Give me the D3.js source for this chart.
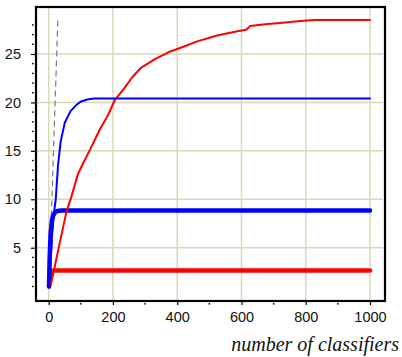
<!DOCTYPE html>
<html>
<head>
<meta charset="utf-8">
<script src="https://cdn.jsdelivr.net/npm/d3@7/dist/d3.min.js"></script>
<style>
  html, body { margin: 0; padding: 0; background: #fff; }
  svg { display: block; }
  .title { font-family: 'Liberation Serif', 'Times New Roman', serif; font-style: italic; }
  .tick text { font-family: 'Liberation Sans', Arial, sans-serif; }
</style>
</head>
<body>
<svg id="chart" width="402" height="357"></svg>
<script>
// x positions (number of classifiers) and values for each curve
const redThinX  = [6, 16, 35, 56, 70, 91, 110, 130, 159, 185, 205, 234, 260, 288, 332, 374, 415, 462, 524, 565, 596, 615, 627, 680, 720, 783, 829, 1000];
const redThinY  = [1.1, 2.6, 5.6, 8.8, 10.2, 12.6, 13.9, 15.2, 17.2, 18.7, 20.2, 21.4, 22.6, 23.6, 24.5, 25.2, 25.7, 26.3, 26.9, 27.2, 27.4, 27.5, 27.9, 28.1, 28.2, 28.4, 28.5, 28.5];

const blueThinX = [1, 5, 10, 16, 22, 29, 37, 50, 68, 85, 99, 120, 141, 1000];
const blueThinY = [1, 3, 6, 8.5, 10, 13.5, 15.9, 17.9, 19.1, 19.7, 20.07, 20.3, 20.4, 20.4];

const blueThickX = [1, 3, 6, 9, 11, 15, 20, 27, 40, 1000];
const blueThickY = [1, 4, 6.4, 7.5, 8.0, 8.4, 8.65, 8.8, 8.85, 8.85];

const redThickX = [1, 5, 11, 15, 1000];
const redThickY = [1, 1.8, 2.6, 2.65, 2.65];

const diagX = [1, 28.5];
const diagY = [1, 28.5];

const xMajorTicks = [0, 200, 400, 600, 800, 1000];
const xMinorTicks = [100, 300, 500, 700, 900];
const yMajorTicks = [5, 10, 15, 20, 25];
const yMinorTicks = [1, 2, 3, 4, 6, 7, 8, 9, 11, 12, 13, 14, 16, 17, 18, 19, 21, 22, 23, 24, 26, 27, 28];
const xTitle = "number of classifiers";

const svg = d3.select("#chart");
const plot = { left: 36, right: 385, top: 7, bottom: 301 };

const x = d3.scaleLinear().domain([-39.5, 1046.7]).range([plot.left, plot.right]);
const y = d3.scaleLinear().domain([-0.5, 29.85]).range([plot.bottom, plot.top]);

const gridColor = "#d9d9b8";

// grid
svg.append("g").selectAll("line").data(xMajorTicks).join("line")
  .attr("x1", d => x(d)).attr("x2", d => x(d))
  .attr("y1", plot.top).attr("y2", plot.bottom)
  .attr("stroke", gridColor).attr("stroke-width", 1.5);
svg.append("g").selectAll("line").data(yMajorTicks).join("line")
  .attr("x1", plot.left).attr("x2", plot.right - 2)
  .attr("y1", d => y(d)).attr("y2", d => y(d))
  .attr("stroke", gridColor).attr("stroke-width", 1.5);

// curves
const line = d3.line().x(d => x(d[0])).y(d => y(d[1]));
const zip = (a, b) => a.map((v, i) => [v, b[i]]);

function curve(xs, ys, color, width, dash) {
  const p = svg.append("path")
    .datum(zip(xs, ys))
    .attr("d", line)
    .attr("fill", "none")
    .attr("stroke", color)
    .attr("stroke-width", width)
    .attr("stroke-linejoin", "round")
    .attr("stroke-linecap", "round");
  if (dash) p.attr("stroke-dasharray", dash).attr("stroke-linecap", "butt");
}

curve(diagX, diagY, "#7a7a7a", 1.2, "6,4");
curve(redThickX, redThickY, "#ff0000", 4.5);
curve(blueThickX, blueThickY, "#0000ff", 4.5);
curve(redThinX, redThinY, "#ff0000", 2);
curve(blueThinX, blueThinY, "#0000ff", 2);

// frame
svg.append("rect")
  .attr("x", plot.left).attr("y", plot.top)
  .attr("width", plot.right - plot.left).attr("height", plot.bottom - plot.top)
  .attr("fill", "none").attr("stroke", "#000").attr("stroke-width", 2.2);

// x axis
const xAxis = d3.axisBottom(x).tickValues(xMajorTicks).tickSize(3).tickPadding(7).tickFormat(d3.format("d"));
const gx = svg.append("g").attr("transform", `translate(0,${plot.bottom + 1})`).call(xAxis);
gx.select(".domain").remove();
gx.attr("font-family", null);
gx.selectAll("text").attr("font-size", 14.5).attr("fill", "#111");
gx.selectAll(".tick line").attr("stroke", "#000").attr("stroke-width", 1.2);
svg.append("g").selectAll("rect").data(xMinorTicks).join("rect")
  .attr("x", d => x(d) - 0.7).attr("y", plot.bottom + 2)
  .attr("width", 1.4).attr("height", 1.6).attr("fill", "#000");

// y axis
const yAxis = d3.axisLeft(y).tickValues(yMajorTicks).tickSize(4).tickPadding(10).tickFormat(d3.format("d"));
const gy = svg.append("g").attr("transform", `translate(${plot.left - 1},0)`).call(yAxis);
gy.select(".domain").remove();
gy.attr("font-family", null);
gy.selectAll("text").attr("font-size", 14.5).attr("fill", "#111");
gy.selectAll(".tick line").attr("stroke", "#000").attr("stroke-width", 1.2);
svg.append("g").selectAll("rect").data(yMinorTicks).join("rect")
  .attr("x", plot.left - 4).attr("y", d => y(d) - 0.7)
  .attr("width", 1.6).attr("height", 1.4).attr("fill", "#000");

// axis title
svg.append("text")
  .attr("class", "title")
  .attr("x", 399).attr("y", 351)
  .attr("text-anchor", "end")
  .attr("font-size", 20)
  .attr("fill", "#111")
  .text(xTitle);
</script>
</body>
</html>
